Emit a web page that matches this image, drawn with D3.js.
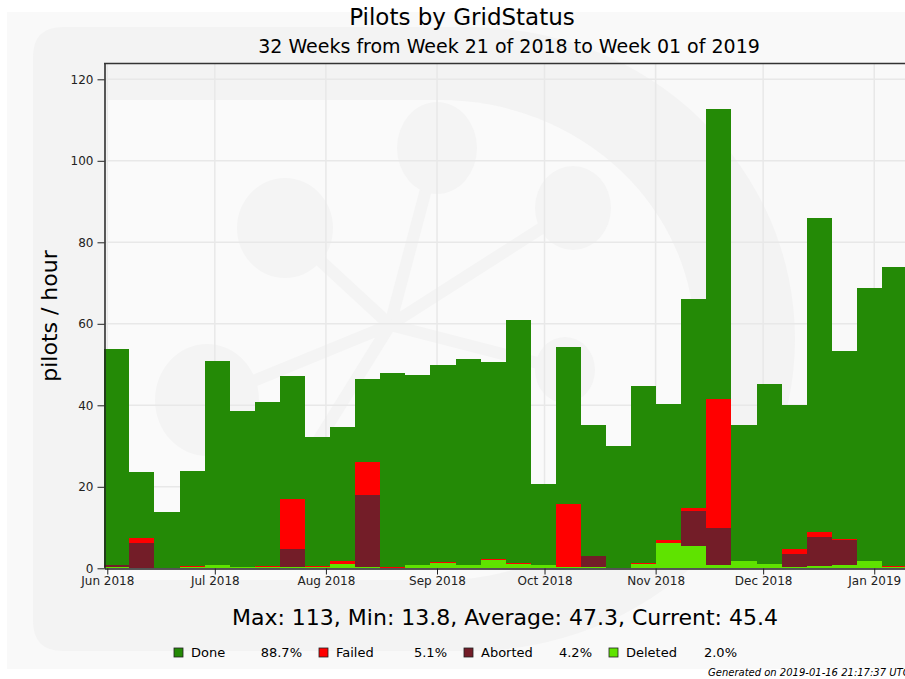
<!DOCTYPE html>
<html>
<head>
<meta charset="utf-8">
<script src="https://cdn.jsdelivr.net/npm/d3@7"></script>
<style>
  body { margin: 0; background: #fff; }
  svg { display: block; font-family: "DejaVu Sans", sans-serif; }
</style>
</head>
<body>
<script>
// weekly pilot rates, week 21 of 2018 .. week 01 of 2019
var weekLabels = ["W21","W22","W23","W24","W25","W26","W27","W28","W29","W30","W31",
    "W32","W33","W34","W35","W36","W37","W38","W39","W40","W41","W42","W43","W44",
    "W45","W46","W47","W48","W49","W50","W51","W01"];
var done    = [53.0,16.2,13.7,23.4,50.1,38.2,40.2,30.2,31.5,32.8,20.4,47.6,46.7,48.5,50.5,48.3,
               59.5,19.8,38.4,32.3,29.9,43.4,33.2,51.4,71.2,33.3,44.2,35.2,77.1,46.2,66.8,73.4];
var failed  = [0.1,1.4,0,0.3,0,0,0.3,12.2,0.3,0.8,8.1,0.3,0,0.3,0.2,0.3,
               0.3,0,15.4,0,0,0.3,0.8,0.7,31.8,0,0,1.2,1.2,0.2,0,0.3];
var aborted = [0.3,6.0,0,0,0,0,0,4.6,0,0,17.7,0,0,0,0,0,
               0,0,0,2.5,0,0,0,8.6,9.1,0,0,3.4,7.1,6.2,0,0];
var deleted = [0.4,0.1,0.1,0.3,0.7,0.4,0.3,0.2,0.3,1.1,0.2,0.1,0.7,1.2,0.7,2.0,
               1.1,0.9,0.4,0.4,0,1.0,6.2,5.5,0.7,1.9,1.0,0.2,0.5,0.7,1.9,0.2];
var legendNames = ["Done","Failed","Aborted","Deleted"];
var legendPct   = ["88.7%","5.1%","4.2%","2.0%"];
var yTicks = [0,20,40,60,80,100,120];

var width = 905, height = 679;
var colors = {done:"#248a06", failed:"#ff0000", aborted:"#731d28", deleted:"#5fe300"};

var svg = d3.select("body").append("svg")
    .attr("width", width)
    .attr("height", height);

//figure background and faint watermark logo
svg.append("rect").attr("x",7).attr("y",12).attr("width",width).attr("height",657).attr("fill","#f9f9f9");
var wm = svg.append("g").attr("fill","#f3f3f3");
wm.append("path").attr("d","M63,27 H470 A325,312 0 0 1 470,651 H63 Q33,651 33,621 V57 Q33,27 63,27 Z");
wm.append("path").attr("fill","#fafafa").attr("d","M105,100 H440 A255,240 0 0 1 440,580 H105 Z");
var hub = [390,325];
var blobs = [[285,228,48,50],[437,148,40,46],[573,208,38,42],[565,370,30,33],[207,400,52,56],[300,470,0,0]];
blobs.forEach(function(b){
    wm.append("line").attr("x1",hub[0]).attr("y1",hub[1]).attr("x2",b[0]).attr("y2",b[1])
        .attr("stroke","#f4f4f4").attr("stroke-width",12);
    if(b[2] > 0) wm.append("ellipse").attr("cx",b[0]).attr("cy",b[1]).attr("rx",b[2]).attr("ry",b[3])
        .attr("fill","#f4f4f4");
});

//scales
var start = new Date(Date.UTC(2018,4,31,4));
var end = d3.utcDay.offset(start, 7*weekLabels.length);
var x = d3.scaleUtc().domain([start,end]).range([104.3, 907.1]);
var y = d3.scaleLinear().domain([0,124]).range([568.3, 63]);
var months = d3.utcMonth.range(new Date(Date.UTC(2018,5,1)), new Date(Date.UTC(2019,1,1)));

//grid
svg.append("g").selectAll("line").data(yTicks).enter().append("line")
    .attr("x1",105).attr("x2",width).attr("y1",d=>y(d)).attr("y2",d=>y(d))
    .attr("stroke","#e8e8e8").attr("stroke-width",1.5);
svg.append("g").selectAll("line").data(months).enter().append("line")
    .attr("y1",63).attr("y2",568).attr("x1",d=>x(d)).attr("x2",d=>x(d))
    .attr("stroke","#e8e8e8").attr("stroke-width",1.5);

//stacked bars
var rows = weekLabels.map(function(w,i){
    return {i:i, date:d3.utcDay.offset(start,7*i), done:done[i], failed:failed[i], aborted:aborted[i], deleted:deleted[i]};
});
var series = d3.stack().keys(["deleted","aborted","failed","done"])(rows);
svg.append("g").attr("shape-rendering","crispEdges")
    .selectAll("g").data(series).enter().append("g")
    .attr("fill", d=>colors[d.key])
    .selectAll("rect").data(d=>d).enter().append("rect")
    .attr("x", d=>Math.round(x(d.data.date)))
    .attr("width", d=>Math.round(x(d3.utcDay.offset(d.data.date,7))) - Math.round(x(d.data.date)))
    .attr("y", d=>y(d[1]))
    .attr("height", d=>Math.max(0, y(d[0]) - y(d[1])));

//axes
var yAxis = svg.append("g").attr("transform","translate(104.5,0)")
    .call(d3.axisLeft(y).tickValues(yTicks).tickSize(7).tickSizeOuter(0).tickPadding(4));
var xAxis = svg.append("g").attr("transform","translate(0,568.5)")
    .call(d3.axisBottom(x).tickValues(months).tickFormat(d3.utcFormat("%b %Y")).tickSize(6).tickSizeOuter(0).tickPadding(2));
[yAxis, xAxis].forEach(function(a){
    a.selectAll("text").attr("font-size",12).attr("fill","#222").attr("font-family","DejaVu Sans");
    a.selectAll("line").attr("stroke","#222");
    a.select(".domain").attr("stroke","#222").attr("stroke-width",1.5);
});
svg.append("line").attr("x1",104).attr("x2",width).attr("y1",63.5).attr("y2",63.5)
    .attr("stroke","#333").attr("stroke-width",1.5);

//texts
svg.append("text").attr("x",462).attr("y",25).attr("text-anchor","middle")
    .attr("font-size",23).text("Pilots by GridStatus");
svg.append("text").attr("x",509).attr("y",53).attr("text-anchor","middle")
    .attr("font-size",19).text("32 Weeks from Week 21 of 2018 to Week 01 of 2019");
svg.append("text").attr("transform","translate(57,316) rotate(-90)").attr("text-anchor","middle")
    .attr("font-size",22).text("pilots / hour");
svg.append("text").attr("x",505).attr("y",625).attr("text-anchor","middle")
    .attr("font-size",22).text("Max: 113, Min: 13.8, Average: 47.3, Current: 45.4");

//legend
var legKeys = ["done","failed","aborted","deleted"];
var leg = svg.append("g").selectAll("g").data(legKeys).enter().append("g")
    .attr("transform",(d,i)=>"translate(" + (174 + i*145) + ",648)");
leg.append("rect").attr("width",9).attr("height",9).attr("fill",d=>colors[d])
    .attr("stroke","#222").attr("stroke-width",0.8);
leg.append("text").attr("x",17).attr("y",9).attr("font-size",13).text((d,i)=>legendNames[i]);
leg.append("text").attr("x",128).attr("y",9).attr("text-anchor","end").attr("font-size",13).text((d,i)=>legendPct[i]);

svg.append("text").attr("x",708).attr("y",676).attr("font-size",10).attr("font-style","italic")
    .text("Generated on 2019-01-16 21:17:37 UTC");
</script>
</body>
</html>
